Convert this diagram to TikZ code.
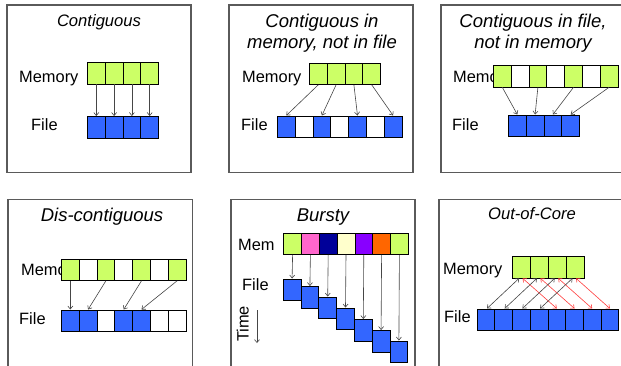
\documentclass[tikz,border=0pt]{standalone}
\usepackage{fontspec}
\setmainfont{Liberation Sans}
\usetikzlibrary{arrows.meta}
\definecolor{lime}{RGB}{204,255,102}
\definecolor{fblue}{RGB}{51,102,255}
\definecolor{bpink}{RGB}{255,102,204}
\definecolor{bnavy}{RGB}{0,0,153}
\definecolor{bcream}{RGB}{255,255,204}
\definecolor{bviolet}{RGB}{136,0,255}
\definecolor{borange}{RGB}{255,102,0}
\definecolor{framegray}{RGB}{90,90,90}
\definecolor{linkgray}{RGB}{70,70,70}
\definecolor{linkred}{RGB}{255,60,60}
\begin{document}
\begin{tikzpicture}[x=1pt,y=-1pt,
  panel/.style={draw=framegray,line width=1.1pt},
  cellbox/.style={rectangle,draw=black,line width=0.8pt,minimum width=17.8pt,
    minimum height=21.5pt,inner sep=0pt,anchor=north west},
  lbl/.style={anchor=base west,inner sep=0pt,font=\fontsize{16.4}{19}\selectfont},
  ttl/.style={anchor=base,inner sep=0pt,font=\fontsize{18.5}{22}\selectfont\itshape},
  ttlsmall/.style={ttl,font=\fontsize{16.6}{20}\selectfont\itshape},
  tip/.tip={Straight Barb[length=3pt,width=5pt]},
  link/.style={draw=linkgray,line width=0.6pt,-tip},
  twoway/.style={draw=linkgray,line width=0.6pt,tip-tip},
  twowayred/.style={draw=linkred,line width=0.6pt,tip-tip},
]
\useasboundingbox (0,0) rectangle (621,365);
\clip (0,0) rectangle (621,365);

% ---------- frames ----------
\draw[panel] (7,5) rectangle (191,172.5);
\draw[panel] (229,5) rectangle (413,172.5);
\draw[panel] (441,5) rectangle (640,172.5);
\draw[panel] (8,199.5) rectangle (192.5,380);
\draw[panel] (231,199.5) rectangle (415,380);
\draw[panel] (439,199.5) rectangle (640,380);

% ---------- Contiguous ----------
\node[ttlsmall] (t1) at (99,26) {Contiguous};
\node[lbl] (m1) at (19,82) {Memory};
\node[lbl] (f1) at (31,130) {File};
\foreach \i in {0,...,3} {
  \node[cellbox,fill=lime] (p1m\i) at (87+\i*17.8,62) {};
  \node[cellbox,fill=fblue] (p1f\i) at (87+\i*17.8,116) {};
}
\foreach \i in {0,...,3} \draw[link] (p1m\i.south) -- (p1f\i.north);

% ---------- Contiguous in memory, not in file ----------
\node[ttl] (t2a) at (322,27) {Contiguous in};
\node[ttl] (t2b) at (322,48.5) {memory, not in file};
\node[lbl] (m2) at (242,82.3) {Memory};
\node[lbl] (f2) at (241,130) {File};
\foreach \i in {0,...,3}
  \node[cellbox,fill=lime] (p2m\i) at (309+\i*17.8,62.5) {};
\foreach \c [count=\i from 0] in {fblue,white,fblue,white,fblue,white,fblue}
  \node[cellbox,fill=\c] (p2f\i) at (277+\i*17.8,115.5) {};
\draw[link] (p2m0.south) -- (p2f0.north);
\draw[link] (p2m1.south) -- (p2f2.north);
\draw[link] (p2m2.south) -- (p2f4.north);
\draw[link] (p2m3.south) -- (p2f6.north);

% ---------- Contiguous in file, not in memory ----------
\node[ttl] (t3a) at (533,27) {Contiguous in file,};
\node[ttl] (t3b) at (533,48.5) {not in memory};
\node[lbl] (m3) at (453,82.3) {Memory};
\node[lbl] (f3) at (452,130) {File};
\foreach \c [count=\i from 0] in {lime,white,lime,white,lime,white,lime}
  \node[cellbox,fill=\c] (p3m\i) at (493+\i*17.8,65) {};
\foreach \i in {0,...,3}
  \node[cellbox,fill=fblue] (p3f\i) at (508+\i*17.8,114.5) {};
\draw[link] (p3m0.south) -- (p3f0.north);
\draw[link] (p3m2.south) -- (p3f1.north);
\draw[link] (p3m4.south) -- (p3f2.north);
\draw[link] (p3m6.south) -- (p3f3.north);

% ---------- Dis-contiguous ----------
\node[ttl] (t4) at (102,221) {Dis-contiguous};
\node[lbl] (m4) at (21,275.7) {Memory};
\node[lbl] (f4) at (19,324) {File};
\foreach \c [count=\i from 0] in {lime,white,lime,white,lime,white,lime}
  \node[cellbox,fill=\c] (p4m\i) at (61+\i*17.8,258.5) {};
\foreach \c [count=\i from 0] in {fblue,fblue,white,fblue,fblue,white,white}
  \node[cellbox,fill=\c] (p4f\i) at (61+\i*17.8,309.5) {};
\draw[link] (p4m0.south) -- (p4f0.north);
\draw[link] (p4m2.south) -- (p4f1.north);
\draw[link] (p4m4.south) -- (p4f3.north);
\draw[link] (p4m6.south) -- (p4f4.north);

% ---------- Bursty ----------
\node[ttl] (t5) at (323,221.7) {Bursty};
\node[lbl] (m5) at (238,250.7) {Mem};
\node[lbl] (f5) at (242,290) {File};
\node[lbl,anchor=base,rotate=90] (time) at (248.5,324) {Time};
\coordinate (tA) at (257,310);
\coordinate (tB) at (257,343);
\draw[link] (tA) -- (tB);
\foreach \c [count=\i from 0] in {lime,bpink,bnavy,bcream,bviolet,borange,lime}
  \node[cellbox,fill=\c] (p5m\i) at (283.3+\i*17.8,232.5) {};
\foreach \yy [count=\i from 0] in {278.5,286,296.5,307.5,319,330,340.5}
  \node[cellbox,fill=fblue] (p5f\i) at (282.8+\i*17.8,\yy) {};
\foreach \i in {0,...,6} \draw[link] (p5m\i.south) -- (p5f\i.north);

% ---------- Out-of-Core ----------
\node[ttlsmall] (t6) at (532,219.3) {Out-of-Core};
\node[lbl] (m6) at (443,274.3) {Memory};
\node[lbl] (f6) at (444,322.7) {File};
\foreach \i in {0,...,3}
  \node[cellbox,fill=lime] (p6m\i) at (512.3+\i*17.8,256) {};
\foreach \i in {0,...,7}
  \node[cellbox,fill=fblue] (p6f\i) at (476.7+\i*17.7,308.5) {};
\foreach \i [evaluate=\i as \j using int(\i+4)] in {0,...,3} {
  \draw[twoway] ([xshift=-2.5pt]p6m\i.south) -- ([xshift=1pt]p6f\i.north);
  \draw[twowayred] ([xshift=1pt]p6m\i.south) -- (p6f\j.north);
}
\end{tikzpicture}
\end{document}
